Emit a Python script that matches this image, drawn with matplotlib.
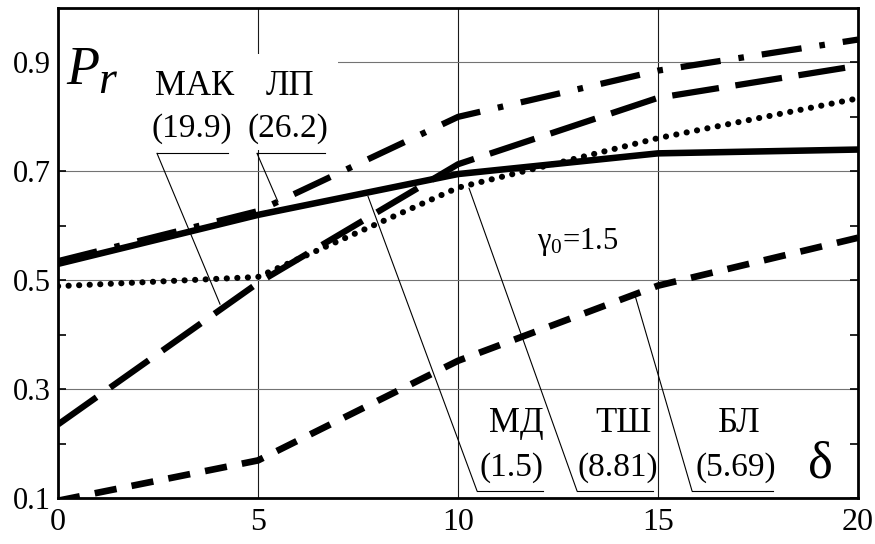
import matplotlib
matplotlib.use('Agg')
import matplotlib.pyplot as plt
from matplotlib.patches import Rectangle

plt.rcParams['font.family'] = ['Liberation Serif', 'DejaVu Serif']
plt.rcParams['lines.scale_dashes'] = False

# data
delta = [0, 5, 10, 15, 20]
p_md = [0.530, 0.620, 0.695, 0.733, 0.740]    # МД (1.5), solid
p_lp = [0.535, 0.627, 0.800, 0.885, 0.942]    # ЛП (26.2), dash-dot
p_mak = [0.235, 0.495, 0.713, 0.835, 0.894]   # МАК (19.9), long dash
p_tsh = [0.489, 0.506, 0.670, 0.761, 0.834]   # ТШ (8.81), dotted
p_bl = [0.095, 0.169, 0.352, 0.490, 0.578]    # БЛ (5.69), short dash

xticks = [0, 5, 10, 15, 20]
yticks = [0.1, 0.3, 0.5, 0.7, 0.9]
yminor = [0.2, 0.4, 0.6, 0.8]

names = ['МАК', 'ЛП', 'МД', 'ТШ', 'БЛ']
values = ['(19.9)', '(26.2)', '(1.5)', '(8.81)', '(5.69)']

fig = plt.figure(figsize=(8.75, 5.44), dpi=100)
ax = fig.add_axes([0.0663, 0.0846, 0.9143, 0.9007])

# curves
ax.plot(delta, p_md, color='black', lw=4.7, solid_capstyle='butt', zorder=3)
ax.plot(delta, p_lp, color='black', lw=4.5, dashes=(29, 13, 4, 13), zorder=3)
ax.plot(delta, p_mak, color='black', lw=4.5, dashes=(34, 12), zorder=3)
ax.plot(delta, p_tsh, color='black', lw=4.4, dashes=(0.1, 7.5),
        dash_capstyle='round', zorder=3)
ax.plot(delta, p_bl, color='black', lw=4.8, dashes=(16, 11), zorder=3)

ax.set_xlim(0, 20)
ax.set_ylim(0.1, 1.0)
ax.set_xticks(xticks)
ax.set_xticklabels([str(v) for v in xticks])
ax.set_yticks(yticks)
ax.set_yticklabels(['{:.1f}'.format(v) for v in yticks])
ax.set_yticks(yminor, minor=True)

ax.set_axisbelow(True)
ax.grid(axis='x', which='major', color='0.1', lw=0.8)
ax.grid(axis='y', which='major', color='0.45', lw=0.8)

ax.tick_params(axis='y', which='both', direction='in', length=6, width=1.2,
               left=True, right=True, labelsize=22, pad=5)
ax.tick_params(axis='x', length=0, labelsize=23, pad=7)
for s in ax.spines.values():
    s.set_linewidth(2)

# white field behind the upper labels (hides the grid there)
ax.add_patch(Rectangle((0, 0.74), 7.0, 0.175, facecolor='white',
                       edgecolor='none', zorder=1))

# axis names
ax.text(0.2, 0.861, 'P', fontsize=39, style='italic', zorder=4)
ax.text(1.0, 0.844, 'r', fontsize=33, style='italic', zorder=4)
ax.text(19.05, 0.137, 'δ', fontsize=38, ha='center', zorder=4)
ax.text(11.975, 0.557, r'$\mathregular{γ_0}$=1.5', fontsize=22, zorder=4)

# curve labels: name, value, underline, leader to curve
name_xy = [(3.425, 0.841), (5.8, 0.841), (11.45, 0.222), (14.125, 0.222), (17.025, 0.222)]
value_xy = [(3.34, 0.763), (5.74, 0.763), (11.325, 0.141), (14.0, 0.141), (16.95, 0.141)]
underline_x = [(2.475, 4.25), (4.975, 6.675), (10.475, 12.125), (12.975, 14.875), (15.85, 17.875)]
underline_y = [0.733, 0.733, 0.113, 0.113, 0.113]
leader_to = [(4.05, 0.456), (5.5, 0.644), (7.75, 0.654), (10.275, 0.669), (14.425, 0.472)]

for i in range(5):
    ax.text(name_xy[i][0], name_xy[i][1], names[i], fontsize=25,
            ha='center', va='baseline', zorder=4)
    ax.text(value_xy[i][0], value_xy[i][1], values[i], fontsize=24,
            ha='center', va='baseline', zorder=4)
    x0, x1 = underline_x[i]
    y0 = underline_y[i]
    ax.plot([x0, x1], [y0, y0], color='black', lw=0.8, zorder=2.5)
    ax.plot([x0, leader_to[i][0]], [y0, leader_to[i][1]], color='black',
            lw=0.8, zorder=2.5)

fig.savefig('out.png', dpi=100)
